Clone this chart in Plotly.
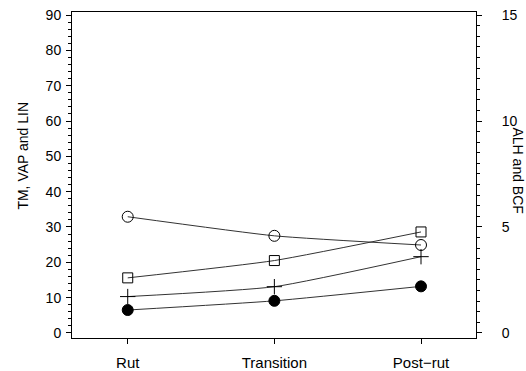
import plotly.graph_objects as go

periods = ["Rut", "Transition", "Post\u2212rut"]
open_circle = [32.9, 27.5, 24.9]
open_square = [15.6, 20.5, 28.6]
plus_vals = [10.3, 13.1, 21.6]
filled_circle = [6.5, 9.1, 13.2]

left_ticks = [0, 10, 20, 30, 40, 50, 60, 70, 80, 90]
right_ticks = [0, 5, 10, 15]

FONT = "Liberation Sans, Arial, sans-serif"
xi = list(range(len(periods)))

fig = go.Figure()
series = [
    (open_circle, "circle-open", 11, "black"),
    (open_square, "square-open", 10, "black"),
    (plus_vals, "cross-thin-open", 11, "black"),
    (filled_circle, "circle", 11, "black"),
]
for vals, sym, size, col in series:
    fig.add_trace(go.Scatter(
        x=xi, y=vals, mode="lines+markers",
        line=dict(color="#333333", width=1, shape="spline", smoothing=0.5),
        marker=dict(symbol=sym, size=size, color=col,
                    line=dict(color="black", width=1)),
        showlegend=False,
    ))
# invisible trace on right axis
fig.add_trace(go.Scatter(x=[0], y=[0], yaxis="y2", mode="markers",
                         marker=dict(opacity=0), showlegend=False, hoverinfo="skip"))

fig.update_layout(
    width=526, height=371,
    margin=dict(l=72, r=50, t=12, b=33),
    paper_bgcolor="white", plot_bgcolor="white",
    font=dict(family=FONT, size=14, color="black"),
    xaxis=dict(
        range=[-0.38, 2.375], tickvals=xi, ticktext=periods, automargin=False,
        showgrid=False, zeroline=False, showline=True, linecolor="black",
        linewidth=1, mirror=True, ticks="outside", ticklen=5,
        tickcolor="black", tickfont=dict(size=15), ticklabelstandoff=6,
    ),
    yaxis=dict(
        range=[-1.42, 90.85], tickvals=left_ticks, automargin=False,
        showgrid=False, zeroline=False, showline=True, linecolor="black",
        linewidth=1, ticks="outside", ticklen=5, tickcolor="black",
        tickfont=dict(size=14), ticklabelstandoff=2,
        minor=dict(dtick=2, ticks="outside", ticklen=3, tickcolor="black"),
    ),
    yaxis2=dict(
        range=[-1.42 / 6, 90.85 / 6], tickvals=right_ticks, automargin=False,
        overlaying="y", side="right",
        showgrid=False, zeroline=False, showline=True, linecolor="black",
        linewidth=1, ticks="outside", ticklen=5, tickcolor="black",
        tickfont=dict(size=14), ticklabelstandoff=17,
        minor=dict(dtick=0.5, ticks="outside", ticklen=3, tickcolor="black"),
    ),
    annotations=[
        dict(text="TM, VAP and LIN", xref="paper", yref="paper",
             x=-0.12, y=0.558, xanchor="center", yanchor="middle",
             textangle=-90, showarrow=False, font=dict(size=14)),
        dict(text="ALH and BCF", xref="paper", yref="paper",
             x=1.103, y=0.515, xanchor="center", yanchor="middle",
             textangle=90, showarrow=False, font=dict(size=14)),
    ],
)

fig.write_html("out.html")
